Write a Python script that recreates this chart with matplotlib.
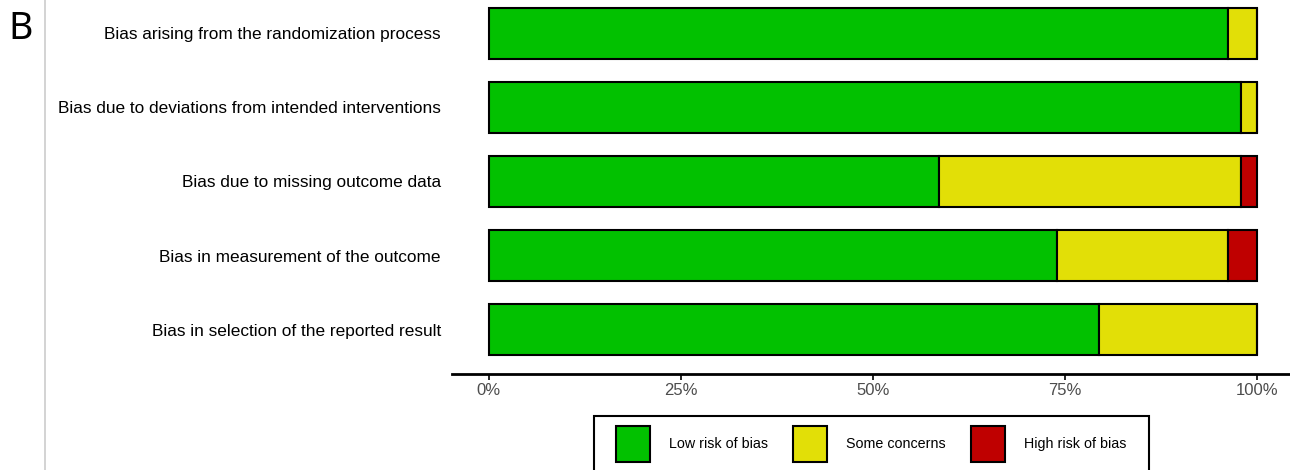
import matplotlib
matplotlib.use("Agg")
import matplotlib.pyplot as plt
from matplotlib.patches import Patch, Rectangle
import numpy as np

domains = [
    "Bias arising from the randomization process",
    "Bias due to deviations from intended interventions",
    "Bias due to missing outcome data",
    "Bias in measurement of the outcome",
    "Bias in selection of the reported result",
]
low = [96.2, 97.9, 58.6, 74.0, 79.4]
some = [3.8, 2.1, 39.3, 22.2, 20.6]
high = [0.0, 0.0, 2.1, 3.8, 0.0]
levels = ["Low risk of bias", "Some concerns", "High risk of bias"]
colors = ["#02C100", "#E2DF07", "#BF0000"]
xticks = [0, 25, 50, 75, 100]
xticklabels = ["0%", "25%", "50%", "75%", "100%"]

W, H = 1290, 470
fig = plt.figure(figsize=(W / 100, H / 100), dpi=100)
ax = fig.add_axes([452 / W, 1 - 374 / H, 838 / W, 385 / H])

y = np.arange(len(domains))[::-1] + 1
lefts = np.zeros(len(domains))
for vals, col in zip([low, some, high], colors):
    v = np.array(vals)
    ax.barh(y, v, left=lefts, height=0.7, color=col, edgecolor="black", linewidth=1.5)
    lefts += v

ax.set_xlim(-4.8, 104.3)
ax.set_ylim(0.4, 5.6)
ax.set_yticks(y)
ax.set_yticklabels(domains, fontsize=12.4, family="Liberation Sans", color="black")
ax.tick_params(axis="y", length=0, pad=8)
ax.set_xticks(xticks)
ax.set_xticklabels(xticklabels, fontsize=12, family="Liberation Sans", color="#4D4D4D")
ax.tick_params(axis="x", length=4, width=1.2, color="black", pad=2.5)
for s in ["top", "right", "left"]:
    ax.spines[s].set_visible(False)
ax.spines["bottom"].set_linewidth(2)

# Panel label and divider
fig.text(8 / W, 1 - 29 / H, "B", fontsize=27, family="Noto Sans", va="center", ha="left")
fig.add_artist(plt.Line2D([45 / W, 45 / W], [0, 1], color="#CCCCCC", linewidth=1.2))

handles = [Patch(facecolor=c, edgecolor="black", linewidth=1.5, label=l) for c, l in zip(colors, levels)]
leg = fig.legend(handles=handles, loc="center", bbox_to_anchor=(871 / W, 1 - 444 / H),
                 ncol=3, frameon=False,
                 prop={"family": "Liberation Sans", "size": 10.3}, handlelength=2.4, handleheight=3.45,
                 handletextpad=1.3, columnspacing=1.75, borderpad=0.0)

fig.canvas.draw()
bb = leg.get_window_extent()
frame = Rectangle((bb.x0 - 22, bb.y0 - 10), bb.width + 45, bb.height + 20,
                  transform=None, fill=False, edgecolor="black", linewidth=1.5)
fig.add_artist(frame)

fig.savefig("out.png", dpi=100, facecolor="white")
